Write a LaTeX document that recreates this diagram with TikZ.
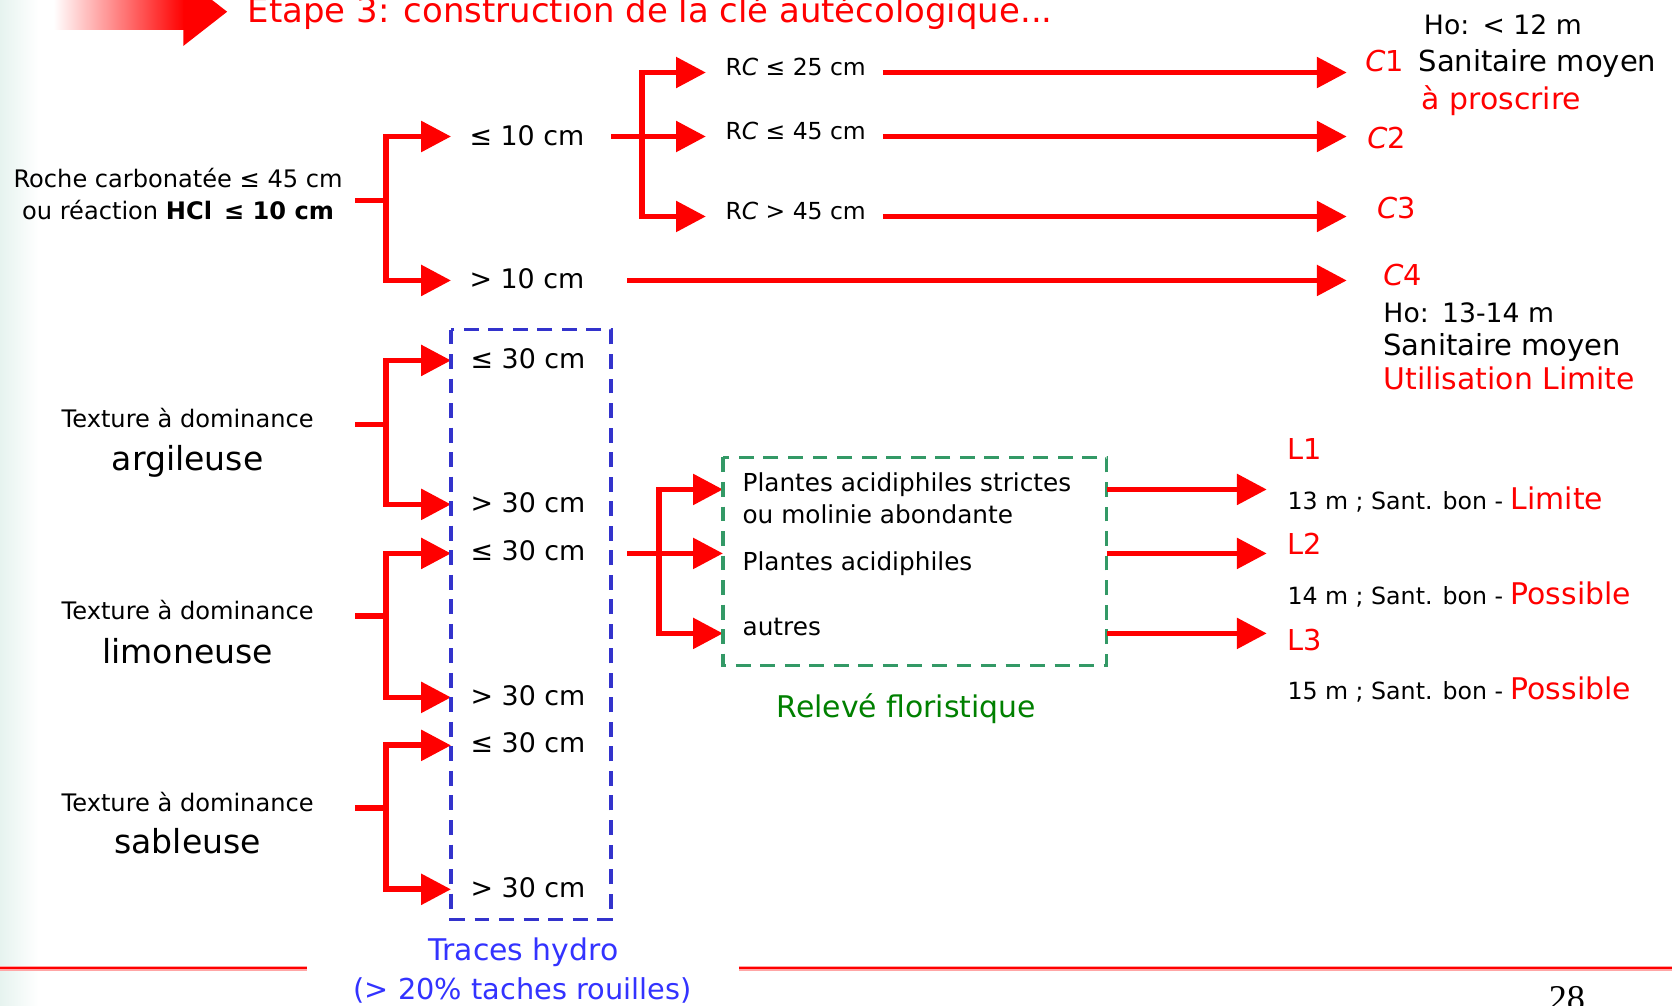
\documentclass[tikz,border=0pt]{standalone}
\usepackage{fontspec}
\setmainfont{DejaVu Sans}
\newfontfamily\foliofont{Liberation Serif}
\usetikzlibrary{arrows.meta}

\definecolor{keyred}{RGB}{255,0,0}
\definecolor{hydroblue}{RGB}{51,51,204}
\definecolor{hydrotext}{RGB}{51,51,255}
\definecolor{floragreen}{RGB}{51,153,102}
\definecolor{floratext}{RGB}{0,128,0}
\definecolor{edgetint}{RGB}{230,243,239}

\newcommand\setsz[1]{\fontsize{#1}{#1}\selectfont}

\tikzset{
  redline/.style={draw=keyred, line width=2.7pt},
  redarrow/.style={redline, -{Triangle[length=14pt,width=14pt]}},
  lab/.style={anchor=base west, inner sep=0pt, font=\setsz{12.6}},
  rclab/.style={anchor=base west, inner sep=0pt, font=\setsz{11}},
  leftlab/.style={anchor=base, inner sep=0pt, font=\setsz{11.3}},
  soil/.style={anchor=base, inner sep=0pt, font=\setsz{15.5}},
  flora/.style={anchor=base west, inner sep=0pt, font=\setsz{11.6}},
  outlab/.style={anchor=base west, inner sep=0pt, font=\setsz{13.5}},
  codelab/.style={anchor=base west, inner sep=0pt, font=\setsz{13.5}, text=keyred},
  note/.style={anchor=base west, inner sep=0pt, font=\setsz{11.1}},
  dashbox/.style={dash pattern=on 7pt off 4.5pt, line width=1.5pt},
}

\begin{document}
\begin{tikzpicture}[x=0.5pt,y=-0.5pt]
\useasboundingbox (0,0) rectangle (1568,943);
\clip (0,0) rectangle (1568,943);
\fill[white] (0,0) rectangle (1568,943);
\shade[left color=edgetint,right color=white] (0,0) rectangle (36,943);

% banner arrow and heading
\shade[left color=white,right color=keyred] (50,-6) rectangle (173,28);
\fill[keyred] (172,-21) -- (213,11) -- (172,43) -- cycle;
\node[anchor=base west, inner sep=0pt, text=keyred, font=\setsz{15.9}] (title) at (232,21)
  {Etape 3: construction de la clé autécologique...};

% ---- carbonate branch ----
\node[leftlab] (roche) at (167,176) {Roche carbonatée ≤ 45 cm};
\node[leftlab] (hcl) at (167,206) {ou réaction \textbf{HCl}\enspace\textbf{≤ 10 cm}};
\coordinate (rocheOut) at (333,188);
\coordinate (rocheJ) at (362,188);
\coordinate (le10In) at (423,128);
\coordinate (gt10In) at (423,263);
\draw[redline] (rocheOut) -- (rocheJ);
\draw[redarrow] (rocheJ) |- (le10In);
\draw[redarrow] (rocheJ) |- (gt10In);
\node[lab] (le10) at (440,136) {≤ 10 cm};
\node[lab] (gt10) at (440,271) {> 10 cm};

\coordinate (le10Out) at (573,128);
\coordinate (rcJ) at (602,128);
\coordinate (rc25In) at (662,68);
\coordinate (rc45In) at (662,128);
\coordinate (rcgtIn) at (662,203);
\draw[redline] (le10Out) -- (rcJ);
\draw[redarrow] (rcJ) -- (rc45In);
\draw[redarrow] (rcJ) |- (rc25In);
\draw[redarrow] (rcJ) |- (rcgtIn);
\node[rclab] (rc25) at (680,71) {R\textit{C} ≤ 25 cm};
\node[rclab] (rc45) at (680,131) {R\textit{C} ≤ 45 cm};
\node[rclab] (rcgt) at (680,206) {R\textit{C} > 45 cm};

\coordinate (rc25Out) at (828,68);
\coordinate (rc45Out) at (828,128);
\coordinate (rcgtOut) at (828,203);
\coordinate (gt10Out) at (588,263);
\coordinate (c1In) at (1263,68);
\coordinate (c2In) at (1263,128);
\coordinate (c3In) at (1263,203);
\coordinate (c4In) at (1263,263);
\draw[redarrow] (rc25Out) -- (c1In);
\draw[redarrow] (rc45Out) -- (c2In);
\draw[redarrow] (rcgtOut) -- (c3In);
\draw[redarrow] (gt10Out) -- (c4In);

% class descriptions
\node[outlab, font=\setsz{12.5}] (ho1) at (1335,32) {Ho:\enspace < 12 m};
\node[codelab] (c1) at (1280,67) {\textit{C}1};
\node[outlab, font=\setsz{13.6}] (san1) at (1330,67) {Sanitaire moyen};
\node[outlab, font=\setsz{14}, text=keyred] (proscr) at (1333,103) {à proscrire};
\node[codelab] (c2) at (1282,139) {\textit{C}2};
\node[codelab] (c3) at (1291,205) {\textit{C}3};
\node[codelab] (c4) at (1297,268) {\textit{C}4};
\node[outlab, font=\setsz{12.5}] (ho2) at (1297,302) {Ho:\enspace 13-14 m};
\node[outlab, font=\setsz{13.6}] (san2) at (1297,333) {Sanitaire moyen};
\node[outlab, font=\setsz{14}, text=keyred] (util) at (1297,365) {Utilisation Limite};

% ---- texture branches ----
\node[leftlab] (tex1) at (176,401) {Texture à dominance};
\node[soil] (argi) at (176,441) {argileuse};
\node[leftlab] (tex2) at (176,581) {Texture à dominance};
\node[soil] (limo) at (176,622) {limoneuse};
\node[leftlab] (tex3) at (176,761) {Texture à dominance};
\node[soil] (sabl) at (176,800) {sableuse};

\coordinate (argiOut) at (333,398);
\coordinate (argiJ) at (362,398);
\coordinate (a30In) at (423,338);
\coordinate (a31In) at (423,473);
\draw[redline] (argiOut) -- (argiJ);
\draw[redarrow] (argiJ) |- (a30In);
\draw[redarrow] (argiJ) |- (a31In);

\coordinate (limoOut) at (333,578);
\coordinate (limoJ) at (362,578);
\coordinate (l30In) at (423,519);
\coordinate (l31In) at (423,654);
\draw[redline] (limoOut) -- (limoJ);
\draw[redarrow] (limoJ) |- (l30In);
\draw[redarrow] (limoJ) |- (l31In);

\coordinate (sablOut) at (333,758);
\coordinate (sablJ) at (362,758);
\coordinate (s30In) at (423,699);
\coordinate (s31In) at (423,834);
\draw[redline] (sablOut) -- (sablJ);
\draw[redarrow] (sablJ) |- (s30In);
\draw[redarrow] (sablJ) |- (s31In);

% hydromorphy box
\draw[hydroblue, dashbox] (423,309) rectangle (573,862);
\node[lab] (a30) at (441,346) {≤ 30 cm};
\node[lab] (a31) at (441,481) {> 30 cm};
\node[lab] (l30) at (441,526) {≤ 30 cm};
\node[lab] (l31) at (441,662) {> 30 cm};
\node[lab] (s30) at (441,706) {≤ 30 cm};
\node[lab] (s31) at (441,842) {> 30 cm};
\node[anchor=base, inner sep=0pt, text=hydrotext, font=\setsz{14}] (hydro) at (491,901) {Traces hydro};
\node[anchor=base, inner sep=0pt, text=hydrotext, font=\setsz{13.5}] (rouil) at (490,937) {(> 20\% taches rouilles)};

% ---- floristic survey ----
\coordinate (floOut) at (588,519);
\coordinate (floJ) at (618,519);
\coordinate (pasIn) at (678,459);
\coordinate (paIn) at (678,519);
\coordinate (autIn) at (678,594);
\draw[redline] (floOut) -- (floJ);
\draw[redarrow] (floJ) -- (paIn);
\draw[redarrow] (floJ) |- (pasIn);
\draw[redarrow] (floJ) |- (autIn);

\draw[floragreen, dashbox] (678,429) rectangle (1038,624);
\node[flora] (pas) at (696,461) {Plantes acidiphiles strictes};
\node[flora] (mol) at (696,491) {ou molinie abondante};
\node[flora] (pa) at (696,535) {Plantes acidiphiles};
\node[flora] (aut) at (696,596) {autres};
\node[anchor=base, inner sep=0pt, text=floratext, font=\setsz{14}] (releve) at (850,673) {Relevé floristique};

\coordinate (pasOut) at (1038,459);
\coordinate (paOut) at (1038,519);
\coordinate (autOut) at (1038,594);
\coordinate (l1In) at (1188,459);
\coordinate (l2In) at (1188,519);
\coordinate (l3In) at (1188,594);
\draw[redarrow] (pasOut) -- (l1In);
\draw[redarrow] (paOut) -- (l2In);
\draw[redarrow] (autOut) -- (l3In);

\node[codelab] (l1) at (1207,431) {L1};
\node[note] (l1d) at (1207,478) {13 m ; Sant. bon - \textcolor{keyred}{\setsz{14}Limite}};
\node[codelab] (l2) at (1207,520) {L2};
\node[note] (l2d) at (1207,567) {14 m ; Sant. bon - \textcolor{keyred}{\setsz{14}Possible}};
\node[codelab] (l3) at (1207,610) {L3};
\node[note] (l3d) at (1207,656) {15 m ; Sant. bon - \textcolor{keyred}{\setsz{14}Possible}};

% footer rule and folio
\draw[keyred!35, line width=2.4pt] (0,908) -- (288,908);
\draw[keyred, line width=1pt] (0,908) -- (288,908);
\draw[keyred!35, line width=2.4pt] (693,908) -- (1568,908);
\draw[keyred, line width=1pt] (693,908) -- (1568,908);
\node[anchor=base west, inner sep=0pt, font=\foliofont\setsz{17}] (folio) at (1452,948) {28};
\end{tikzpicture}
\end{document}
